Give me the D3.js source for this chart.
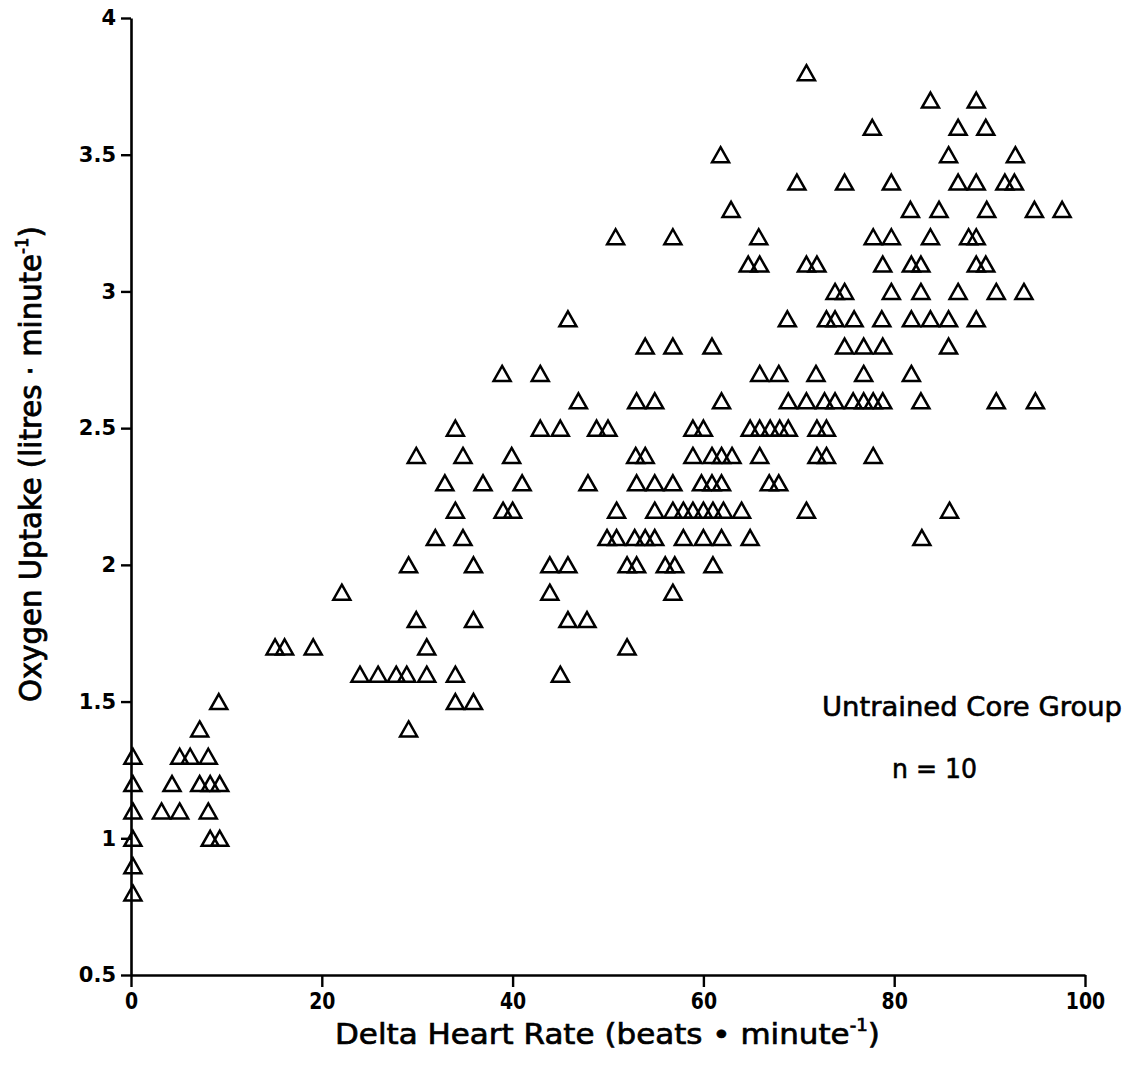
<!DOCTYPE html>
<html><head><meta charset="utf-8">
<script src="https://cdn.jsdelivr.net/npm/d3@7"></script>
<style>body{margin:0;background:#fff}svg{display:block}</style>
</head><body>
<svg id="c" width="1132" height="1065"></svg>
<script>
// Data rows: oxygen uptake level -> delta heart rate values
const rowLevels = [0.8,0.9,1.0,1.1,1.2,1.3,1.4,1.5,1.6,1.7,1.8,1.9,2.0,2.1,2.2,2.3,2.4,2.5,2.6,2.7,2.8,2.9,3.0,3.1,3.2,3.3,3.4,3.5,3.6,3.7,3.8];
const rowHeartRates = [
  [0.2],
  [0.2],
  [0.2, 8.3, 9.3],
  [0.2, 3.2, 5.1, 8.1],
  [0.2, 4.3, 7.2, 8.3, 9.3],
  [0.2, 5.1, 6.2, 8.1],
  [7.2, 29.1],
  [9.2, 34, 35.9],
  [24, 25.9, 27.8, 28.9, 31, 34, 45],
  [15.1, 16.1, 19.1, 31, 52],
  [29.9, 35.9, 45.8, 47.8],
  [22.1, 43.9, 56.8],
  [29.1, 35.9, 43.9, 45.8, 52, 53, 56, 57, 61],
  [31.9, 34.8, 49.9, 50.9, 52.8, 53.9, 54.9, 57.9, 60, 61.9, 64.9, 82.9],
  [34, 39, 40, 50.9, 54.9, 56.8, 57.9, 58.9, 60, 61, 62.1, 64, 70.8, 85.8],
  [32.9, 36.9, 41, 47.9, 53, 54.9, 56.8, 59.8, 60.9, 61.9, 66.9, 67.9],
  [29.9, 34.8, 39.9, 52.9, 53.9, 58.9, 60.9, 61.9, 63, 65.9, 71.9, 72.9, 77.8],
  [34, 42.9, 45, 48.8, 50, 58.9, 60, 64.9, 65.9, 67, 68, 68.9, 71.9, 72.9],
  [46.9, 53, 54.9, 61.9, 68.9, 70.8, 72.7, 73.8, 75.7, 76.8, 77.8, 78.8, 82.8, 90.7, 94.8],
  [38.9, 42.9, 65.9, 67.9, 71.8, 76.8, 81.8],
  [53.9, 56.8, 60.9, 74.8, 76.8, 78.8, 85.7],
  [45.8, 68.8, 72.9, 73.8, 75.8, 78.7, 81.8, 83.8, 85.7, 88.6],
  [73.8, 74.8, 79.7, 82.8, 86.7, 90.7, 93.6],
  [64.7, 65.9, 70.8, 71.9, 78.8, 81.8, 82.8, 88.6, 89.6],
  [50.8, 56.8, 65.8, 77.8, 79.7, 83.8, 87.8, 88.6],
  [62.9, 81.7, 84.7, 89.7, 94.7, 97.6],
  [69.8, 74.8, 79.7, 86.7, 88.6, 91.6, 92.6],
  [61.8, 85.7, 92.7],
  [77.7, 86.7, 89.6],
  [83.8, 88.6],
  [70.8]
];
const xTicks = [0, 20, 40, 60, 80, 100];
const yTicks = [0.5, 1, 1.5, 2, 2.5, 3, 3.5, 4];
const yTickLabels = ["0.5","1","1.5","2","2.5","3","3.5","4"];
const xTitle = "Delta Heart Rate (beats \u2022 minute";
const yTitle = "Oxygen Uptake (litres \u00b7 minute";
const groupLabel = "Untrained Core Group";
const nLabel = "n = 10";

const points = [];
rowLevels.forEach((lv, i) => rowHeartRates[i].forEach(hr => points.push({hr, vo2: lv})));

const svg = d3.select("#c");
svg.append("rect").attr("width",1132).attr("height",1065).attr("fill","#fff");

const x = d3.scaleLinear().domain([0,100]).range([131,1085]);
const y = d3.scaleLinear().domain([0.5,4]).range([975,18]);

const FONT = "'DejaVu Sans', sans-serif";

// axes
const yAxis = d3.axisLeft(y).tickValues(yTicks).tickFormat((d,i)=>yTickLabels[i]).tickSize(10).tickSizeOuter(0).tickPadding(5);
const gy = svg.append("g").attr("transform","translate(131,0)").call(yAxis);
const xAxis = d3.axisBottom(x).tickValues(xTicks).tickFormat(d3.format("d")).tickSize(12).tickSizeOuter(0).tickPadding(5);
const gx = svg.append("g").attr("transform","translate(0,975)").call(xAxis);
[gx, gy].forEach(g => {
  g.select(".domain").attr("stroke","#000").attr("stroke-width",2.6);
  g.selectAll(".tick line").attr("stroke","#000").attr("stroke-width",2.4);
  g.selectAll(".tick text").attr("fill","#000").attr("font-family",FONT).attr("font-weight","bold");
});
gy.selectAll(".tick text").attr("font-size",21);
gx.selectAll(".tick text").attr("font-size",23).attr("dy","0.72em").attr("transform","scale(0.82,1)");

// points
const tri = "M0,-7.5L8.5,7.5L-8.5,7.5Z";
svg.append("g").selectAll("path").data(points).join("path")
  .attr("d", tri)
  .attr("transform", d => `translate(${x(d.hr)},${y(d.vo2)})`)
  .attr("fill","none").attr("stroke","#000").attr("stroke-width",2.5).attr("stroke-linejoin","miter");

function fitText(sel, tx, ty, width, rot) {
  const bb = sel.node().getBBox();
  const s = width / bb.width;
  sel.attr("transform", `translate(${tx},${ty})${rot ? " rotate(" + rot + ")" : ""} scale(${s},1) translate(${-bb.x},0)`);
}

// x title
const xt = svg.append("text").attr("font-family",FONT).attr("font-size",29).attr("fill","#000")
  .attr("stroke","#000").attr("stroke-width",0.7);
xt.append("tspan").text(xTitle);
xt.append("tspan").attr("font-size",17).attr("dy",-13).text("-1");
xt.append("tspan").attr("dy",13).text(")");
fitText(xt, 335, 1044, 545);

// y title
const yt = svg.append("text").attr("font-family",FONT).attr("font-size",30).attr("fill","#000")
  .attr("stroke","#000").attr("stroke-width",0.8);
yt.append("tspan").text(yTitle);
yt.append("tspan").attr("font-size",17).attr("dy",-13).text("-1");
yt.append("tspan").attr("dy",13).text(")");
fitText(yt, 41, 702, 476, -90);

// annotations
const g1 = svg.append("text").attr("font-family",FONT).attr("font-size",26).attr("fill","#000")
  .attr("stroke","#000").attr("stroke-width",0.6).text(groupLabel);
fitText(g1, 822, 716, 300);
const g2 = svg.append("text").attr("font-family",FONT).attr("font-size",26).attr("fill","#000")
  .attr("stroke","#000").attr("stroke-width",0.6).text(nLabel);
fitText(g2, 892, 778, 85);
</script>
</body></html>
